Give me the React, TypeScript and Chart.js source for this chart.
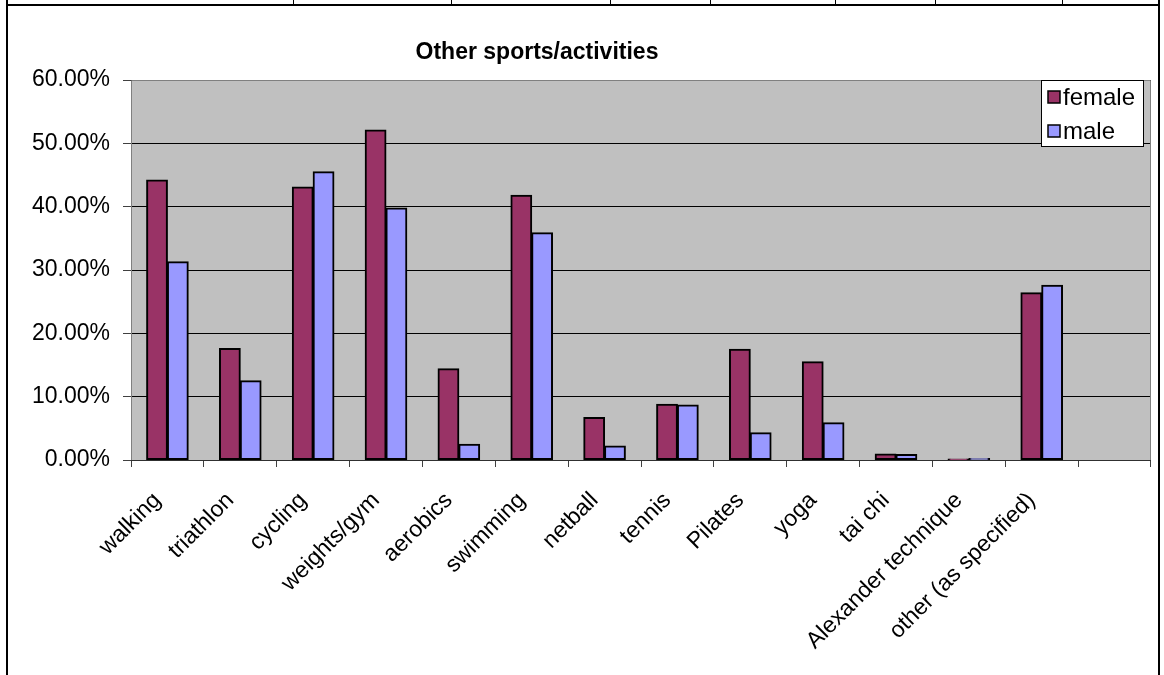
import React, { useEffect, useRef } from "react";
import { Chart, registerables } from "chart.js";

Chart.register(...registerables);

const categories = [
  "walking",
  "triathlon",
  "cycling",
  "weights/gym",
  "aerobics",
  "swimming",
  "netball",
  "tennis",
  "Pilates",
  "yoga",
  "tai chi",
  "Alexander technique",
  "other (as specified)",
  "",
];

const femaleValues = [44.2, 17.6, 43.1, 52.1, 14.4, 41.8, 6.7, 8.8, 17.5, 15.5, 0.95, 0.15, 26.4, null];
const maleValues = [31.3, 12.5, 45.5, 39.8, 2.5, 35.9, 2.2, 8.7, 4.3, 5.9, 0.85, 0.25, 27.6, null];

const yTicks = [0, 10, 20, 30, 40, 50, 60];
const chartTitle = "Other sports/activities";
const seriesNames = ["female", "male"];
const tableDividers = [293, 451, 610, 710, 835, 935, 1062];

const FONT = "'Liberation Sans', Arial, sans-serif";

const decorPlugin = {
  id: "decor",
  beforeDraw(chart: any) {
    const { ctx, chartArea } = chart;
    ctx.save();
    ctx.fillStyle = "#ffffff";
    ctx.fillRect(0, 0, chart.width, chart.height);
    ctx.fillStyle = "#C0C0C0";
    ctx.fillRect(chartArea.left, chartArea.top, chartArea.right - chartArea.left, chartArea.bottom - chartArea.top);
    ctx.restore();
  },
  afterDraw(chart: any) {
    const { ctx, chartArea } = chart;
    ctx.save();
    ctx.strokeStyle = "#808080";
    ctx.lineWidth = 1;
    ctx.beginPath();
    ctx.moveTo(chartArea.left + 0.5, chartArea.bottom);
    ctx.lineTo(chartArea.left + 0.5, chartArea.top + 0.5);
    ctx.lineTo(chartArea.right - 0.5, chartArea.top + 0.5);
    ctx.lineTo(chartArea.right - 0.5, chartArea.bottom);
    ctx.stroke();
    ctx.strokeStyle = "#303030";
    ctx.beginPath();
    ctx.moveTo(chartArea.left, chartArea.bottom + 0.5);
    ctx.lineTo(chartArea.right, chartArea.bottom + 0.5);
    ctx.stroke();

    ctx.fillStyle = "#000000";
    ctx.fillRect(6, 0, 2, chart.height);
    ctx.fillRect(1158, 0, 2, chart.height);
    ctx.fillRect(6, 4, 1154, 2);
    tableDividers.forEach((x) => ctx.fillRect(x, 0, 1, 5));

    ctx.fillStyle = "#000000";
    ctx.font = `bold 23px ${FONT}`;
    ctx.textAlign = "center";
    ctx.textBaseline = "middle";
    ctx.fillText(chartTitle, 537, 53);

    const lx = 1041;
    const ly = 80;
    const lw = 103;
    const lh = 67;
    ctx.fillStyle = "#ffffff";
    ctx.fillRect(lx, ly, lw, lh);
    ctx.strokeStyle = "#000000";
    ctx.lineWidth = 1;
    ctx.strokeRect(lx + 0.5, ly + 0.5, lw - 1, lh - 1);
    chart.data.datasets.forEach((ds: any, i: number) => {
      const cy = 97 + i * 34;
      ctx.fillStyle = ds.backgroundColor;
      ctx.fillRect(1048, cy - 6, 12, 12);
      ctx.strokeStyle = "#000000";
      ctx.lineWidth = 1.5;
      ctx.strokeRect(1048, cy - 6, 12, 12);
      ctx.fillStyle = "#000000";
      ctx.font = `24px ${FONT}`;
      ctx.textAlign = "left";
      ctx.textBaseline = "middle";
      ctx.fillText(ds.label, 1063, cy + 1);
    });
    ctx.restore();
  },
};

export default function App() {
  const canvasRef = useRef<HTMLCanvasElement | null>(null);

  useEffect(() => {
    const canvas = canvasRef.current;
    if (!canvas) return;
    const chart = new Chart(canvas, {
      type: "bar",
      data: {
        labels: categories,
        datasets: [
          {
            label: seriesNames[0],
            data: femaleValues,
            backgroundColor: "#993366",
            borderColor: "#000000",
            borderWidth: 2,
            borderSkipped: false,
            inflateAmount: 0.5,
            categoryPercentage: 2 / 3.5,
            barPercentage: 1,
          },
          {
            label: seriesNames[1],
            data: maleValues,
            backgroundColor: "#9999FF",
            borderColor: "#000000",
            borderWidth: 2,
            borderSkipped: false,
            inflateAmount: 0.5,
            categoryPercentage: 2 / 3.5,
            barPercentage: 1,
          },
        ] as any,
      },
      options: {
        responsive: false,
        animation: false,
        devicePixelRatio: 1,
        layout: { padding: { top: 80, right: 13, left: 0, bottom: 0 } },
        plugins: {
          legend: { display: false },
          title: { display: false },
          tooltip: { enabled: false },
        },
        scales: {
          x: {
            offset: true,
            grid: {
              display: true,
              drawOnChartArea: false,
              offset: true,
              tickLength: 7,
              tickColor: "#404040",
            },
            border: { display: false },
            ticks: {
              autoSkip: false,
              minRotation: 45,
              maxRotation: 45,
              color: "#000000",
              font: { family: FONT, size: 23 },
              padding: 20,
              labelOffset: -10,
            },
            afterFit(scale: any) {
              scale.height = 215;
            },
          },
          y: {
            min: 0,
            max: 60,
            afterBuildTicks(scale: any) {
              scale.ticks = yTicks.map((v) => ({ value: v }));
            },
            grid: {
              color: "#000000",
              lineWidth: 1,
              tickLength: 8,
              tickColor: "#404040",
            },
            border: { display: false },
            ticks: {
              color: "#000000",
              font: { family: FONT, size: 23 },
              padding: 13,
              callback: (v: any) => Number(v).toFixed(2) + "%",
            },
            afterFit(scale: any) {
              scale.width = 131;
            },
          },
        },
      },
      plugins: [decorPlugin],
    } as any);
    return () => chart.destroy();
  }, []);

  return (
    <div style={{ position: "fixed", left: 0, top: 0, width: 1164, height: 675, background: "#fff" }}>
      <canvas ref={canvasRef} width={1164} height={675} style={{ width: 1164, height: 675, display: "block" }} />
    </div>
  );
}
